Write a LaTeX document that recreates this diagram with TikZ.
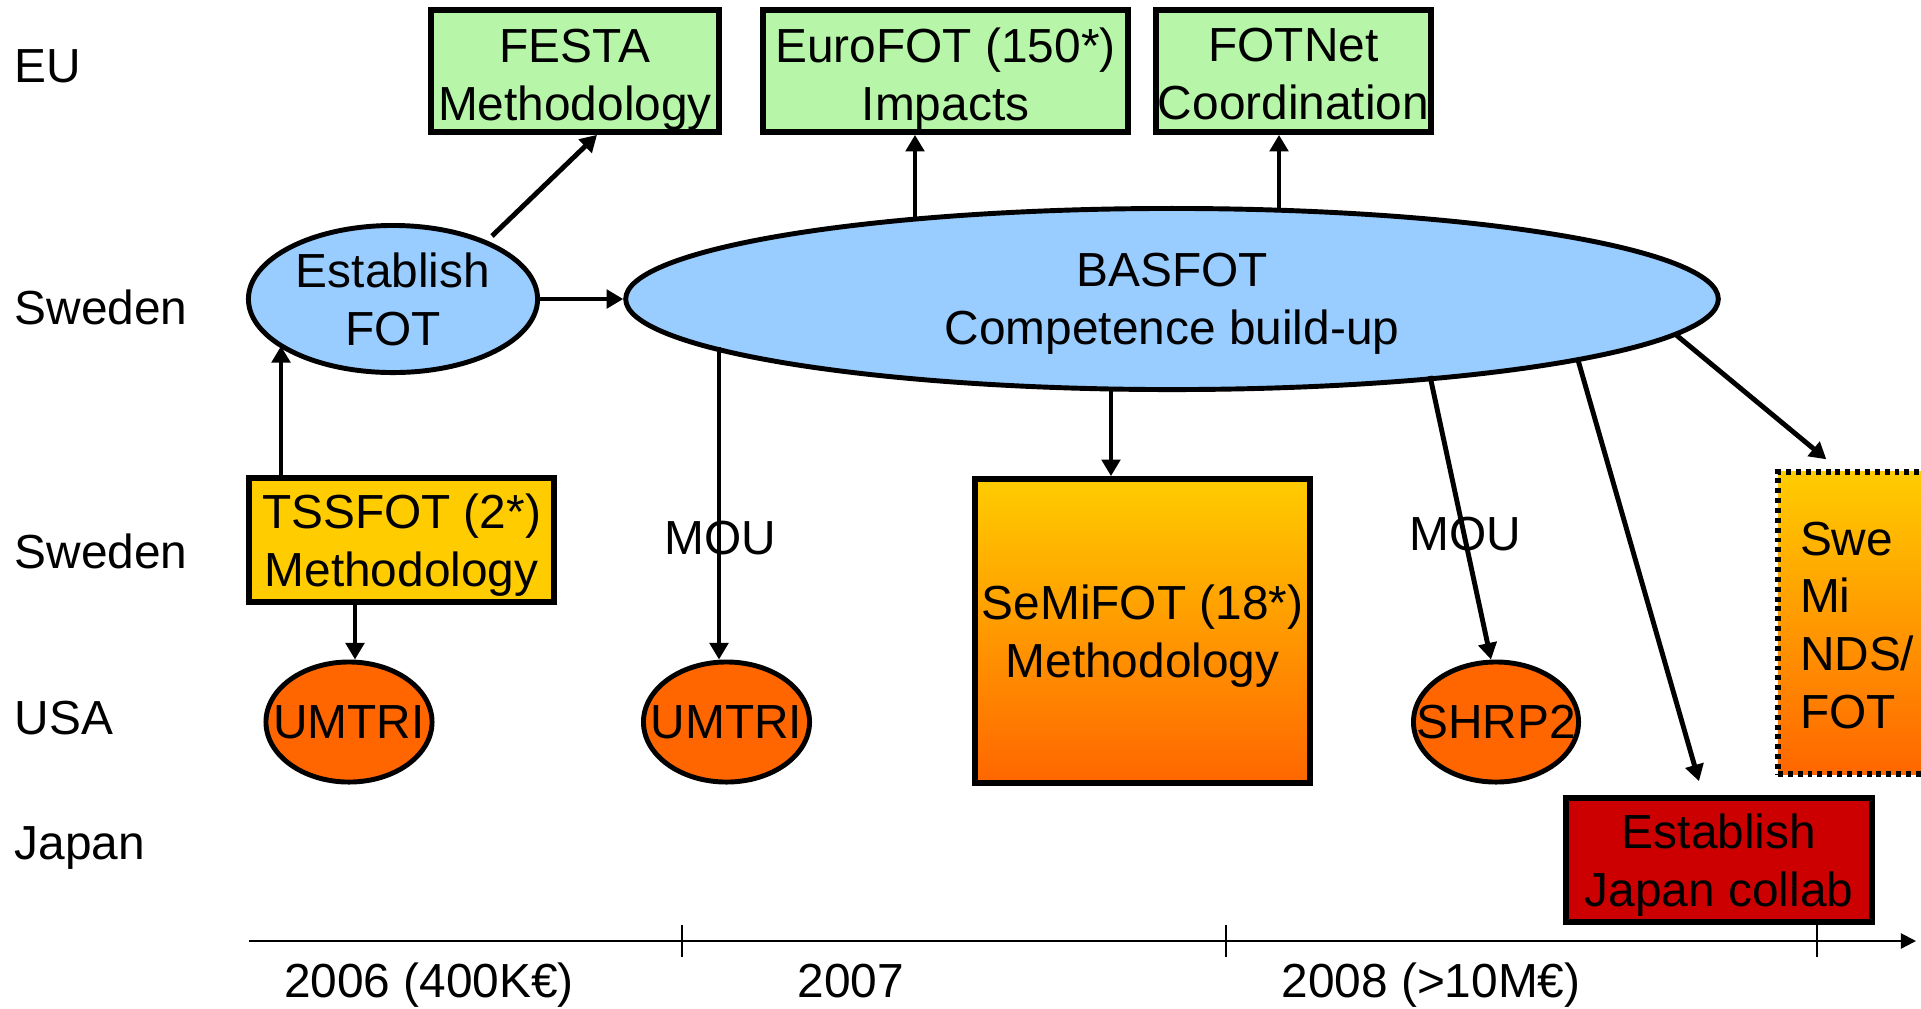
\documentclass[tikz,border=0pt]{standalone}
\usepackage{fontspec}
\setmainfont{Liberation Sans}
\usetikzlibrary{shapes.geometric,arrows.meta}
\definecolor{eugreen}{RGB}{183,245,168}
\definecolor{sweblue}{RGB}{153,204,255}
\definecolor{goldy}{RGB}{255,204,0}
\definecolor{orng}{RGB}{255,102,0}
\definecolor{jred}{RGB}{204,0,0}
\begin{document}
\begin{tikzpicture}[x=0.01cm,y=-0.01cm,
  font=\fontsize{13.6pt}{16.4pt}\selectfont,
  arr/.style={line width=1.4pt,-{Triangle[length=4.7pt,width=5.2pt]}},
  boxb/.style={draw,line width=1.6pt,rectangle,inner sep=0pt,align=center,text depth=0pt},
  greenbox/.style={draw,line width=1.6pt,rectangle,fill=eugreen,minimum height=1.22cm},
  ell/.style={draw,line width=1.4pt,ellipse,inner sep=0pt},
  txt/.style={inner sep=0pt,align=center,text depth=0pt},
  lab/.style={inner sep=0pt,anchor=base west},
  yr/.style={inner sep=0pt,anchor=base}]
\useasboundingbox (0,0) rectangle (1921,1008);
\clip (0,0) rectangle (1921,1008);
% row labels
\node[lab] (lEU) at (14,82) {EU};
\node[lab] (lSw1) at (14,324) {Sweden};
\node[lab] (lSw2) at (14,568) {Sweden};
\node[lab] (lUSA) at (14,734) {USA};
\node[lab] (lJap) at (14,859) {Japan};
% EU boxes
\node[greenbox,minimum width=2.88cm] (festa) at (575,71) {};
\node[txt] (festaT) at ([shift={(0,4)}]festa.center) {FESTA\\Methodology};
\node[greenbox,minimum width=3.65cm] (euro) at (945.5,71) {};
\node[txt] (euroT) at ([shift={(0,3)}]euro.center) {EuroFOT (150*)\\Impacts};
\node[greenbox,minimum width=2.75cm] (fotnet) at (1293.5,71) {};
\node[txt] (fotnetT) at ([shift={(0,3)}]fotnet.center) {FOTNet\\Coordination};
% Sweden ellipses
\node[ell,fill=sweblue,minimum width=2.89cm,minimum height=1.47cm] (est) at (393,299) {};
\node[txt] (estT) at (est.center) {Establish\\FOT};
\node[ell,fill=sweblue,minimum width=10.92cm,minimum height=1.81cm] (bas) at (1172,299) {};
\node[txt] (basT) at (bas.center) {BASFOT\\Competence build-up};
% Sweden boxes
\node[boxb,fill=goldy,minimum width=3.05cm,minimum height=1.24cm] (tss) at (401.5,540) {TSSFOT (2*)\\Methodology};
\node[boxb,top color=goldy,bottom color=orng,minimum width=3.35cm,minimum height=3.04cm] (semi) at (1142.5,631) {SeMiFOT (18*)\\Methodology};
\node[draw,line width=1.5pt,dash pattern=on 1.4pt off 1.4pt,rectangle,top color=goldy,bottom color=orng,
  minimum width=2.0cm,minimum height=3.02cm,inner sep=0pt] (swe) at (1878,623) {};
\node[txt,align=left,anchor=west] (sweT) at ([shift={(24,2)}]swe.west) {Swe\\Mi\\NDS/\\FOT};
% USA
\node[ell,fill=orng,minimum width=1.66cm,minimum height=1.20cm] (um1) at (349,722) {};
\node[txt] (um1T) at (um1.center) {UMTRI};
\node[ell,fill=orng,minimum width=1.66cm,minimum height=1.20cm] (um2) at (726.5,722) {};
\node[txt] (um2T) at (um2.center) {UMTRI};
\node[ell,fill=orng,minimum width=1.65cm,minimum height=1.20cm] (shrp) at (1496,722) {};
\node[txt] (shrpT) at (shrp.center) {SHRP2};
% Japan
\node[boxb,fill=jred,minimum width=3.06cm,minimum height=1.24cm] (jap) at (1719,860) {Establish\\Japan collab};
% MOU labels
\node[yr] (mou1) at (720,554) {MOU};
\node[yr] (mou2) at (1465,550) {MOU};
% connectors
\draw[arr] ([shift={(99,-63)}]est.center) -- ([shift={(22,0)}]festa.south);
\draw[arr] ([shift={(-112,0)}]est.center |- tss.north) -- ([shift={(-112,47)}]est.center);
\draw[arr] ([shift={(6,0)}]um1.north |- tss.south) -- ([shift={(6,0)}]um1.north);
\draw[arr] (est.east) -- (bas.west);
\draw[arr] ([shift={(-257,-80)}]bas.center) -- ([shift={(-257,0)}]bas.center |- euro.south);
\draw[arr] ([shift={(107,-89)}]bas.center) -- ([shift={(107,0)}]bas.center |- fotnet.south);
\draw[arr] ([shift={(-453,48)}]bas.center) -- ([shift={(-453,0)}]bas.center |- um2.north);
\draw[arr] ([shift={(-61,90)}]bas.center) -- ([shift={(-61,0)}]bas.center |- semi.north);
\draw[arr] ([shift={(258,77)}]bas.center) -- ([shift={(-5,0)}]shrp.north);
\draw[arr] ([shift={(406,61)}]bas.center) -- ([shift={(-20,-14)}]jap.north);
\draw[arr] ([shift={(503,35)}]bas.center) -- ([shift={(51,-10)}]swe.north west);
% timeline
\coordinate (tl0) at (249,941);
\coordinate (tl1) at (1916,941);
\draw[line width=0.6pt,-{Triangle[length=4.3pt,width=4.3pt]}] (tl0) -- (tl1);
\foreach \tx in {682,1226,1817} \draw[line width=0.6pt] (\tx,925) -- (\tx,957);
\node[yr] (y2006) at (429,997) {2006 (400K€)};
\node[yr] (y2007) at (851,997) {2007};
\node[yr] (y2008) at (1431,997) {2008 (>10M€)};
\end{tikzpicture}
\end{document}
